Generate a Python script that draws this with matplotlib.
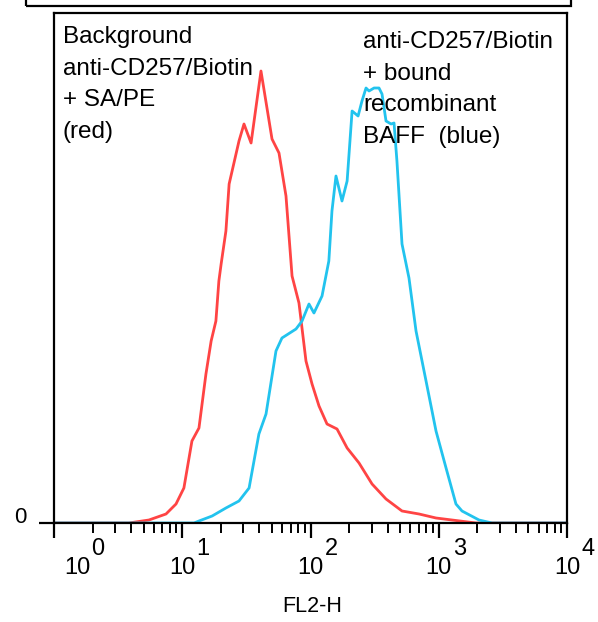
import numpy as np
import matplotlib
matplotlib.use("Agg")
import matplotlib.pyplot as plt
import matplotlib.transforms as mtransforms
from matplotlib.patches import Rectangle

plt.rcParams['font.family'] = ['Liberation Sans', 'DejaVu Sans']

# ---------------------------------------------------------
# Data (FL2-H channel vs. counts)
# ---------------------------------------------------------
red_fl2 = [1.0, 3.84, 5.5, 7.47, 8.94, 10.3, 11.9, 13.5, 15.3, 16.8, 18.3,
           19.3, 20.1, 21.9, 23.2, 27.7, 30.3, 34.4, 41.1, 50.1, 56.8, 64.4,
           71.8, 81.3, 92.2, 102.8, 116.5, 134.5, 161, 193, 239, 302, 388,
           517, 702, 952, 1268, 1951, 10000]
red_counts = [0, 0, 3, 9, 19, 35, 82, 95, 149, 182, 202,
              242, 259, 292, 339, 382, 399, 380, 452, 384, 370, 327,
              247, 220, 162, 139, 117, 99, 94, 75, 60, 39, 24,
              12, 9, 5, 3, 0, 0]

blue_fl2 = [1.0, 12.35, 13.5, 17.1, 21.9, 27.7, 33.2, 39.6, 45.0, 53.8, 59.9,
            77.1, 85.9, 97.3, 106.4, 123, 139, 147, 158, 176, 193, 211, 235,
            252, 271, 286, 313, 342, 361, 388, 425, 448, 472, 517, 586, 665,
            796, 952, 1140, 1362, 1518, 2061, 2600, 10000]
blue_counts = [0, 0, 2, 7, 15, 22, 35, 89, 109, 172, 185,
               194, 202, 219, 210, 227, 262, 312, 347, 322, 342, 412, 407,
               422, 435, 432, 435, 435, 429, 402, 399, 400, 362, 279, 245, 192,
               142, 92, 55, 19, 12, 3, 0, 0]

decades = [1, 10, 100, 1000, 10000]
exponents = ["0", "1", "2", "3", "4"]

# ---------------------------------------------------------
# Figure
# ---------------------------------------------------------
fig = plt.figure(figsize=(5.98, 6.22), dpi=100)
ax = fig.add_axes([54 / 598, 1 - 523 / 622, 513 / 598, 510 / 622])

ax.plot(red_fl2, red_counts, color="#ff4444", lw=2.0, solid_joinstyle="round")
ax.plot(blue_fl2, blue_counts, color="#22c3ee", lw=2.0, solid_joinstyle="round")

ax.set_xscale("log")
ax.set_xlim(1, 10000)
ax.set_ylim(0, 510)

for s in ax.spines.values():
    s.set_linewidth(1.6)

ax.set_xticks(decades)
ax.set_xticklabels([])
ax.xaxis.set_minor_locator(matplotlib.ticker.LogLocator(base=10, subs=np.arange(2, 10)))
ax.xaxis.set_minor_formatter(matplotlib.ticker.NullFormatter())
ax.tick_params(axis="x", which="major", direction="out", length=11, width=1.6)
ax.tick_params(axis="x", which="minor", direction="out", length=7, width=1.4)

ax.set_yticks([0])
ax.set_yticklabels(["0"])
ax.tick_params(axis="y", direction="out", length=11, width=1.6, labelsize=16, pad=9)
for lab in ax.get_yticklabels():
    lab.set_verticalalignment("baseline")

# decade labels "10" with raised exponent
xtrans = ax.get_xaxis_transform()
for i, (d, e) in enumerate(zip(decades, exponents)):
    dx = 16.5 if i == 0 else 0
    off = mtransforms.ScaledTranslation(dx / 72, -32.4 / 72, fig.dpi_scale_trans)
    ax.text(d, 0, "10", transform=xtrans + off, ha="center", va="center",
            fontsize=17, clip_on=False)
    off = mtransforms.ScaledTranslation((dx + 15) / 72, -19 / 72, fig.dpi_scale_trans)
    ax.text(d, 0, e, transform=xtrans + off, ha="center", va="center",
            fontsize=17, clip_on=False)

fig.text(312 / 598, 1 - 606 / 622, "FL2-H", ha="center", va="center", fontsize=15.5)

fig.text(63 / 598, 1 - 26 / 622, "Background\nanti-CD257/Biotin\n+ SA/PE\n(red)",
         ha="left", va="top", fontsize=17.5, linespacing=1.56)
fig.text(363 / 598, 1 - 31 / 622, "anti-CD257/Biotin\n+ bound\nrecombinant\nBAFF  (blue)",
         ha="left", va="top", fontsize=17.5, linespacing=1.56)

# box of the panel above, cut off by the image edge
fig.patches.append(Rectangle((26 / 598, 1 - 6 / 622), 545 / 598, 0.2,
                             transform=fig.transFigure, fill=False,
                             lw=1.6, edgecolor="black"))

fig.savefig("out.png", dpi=100)
